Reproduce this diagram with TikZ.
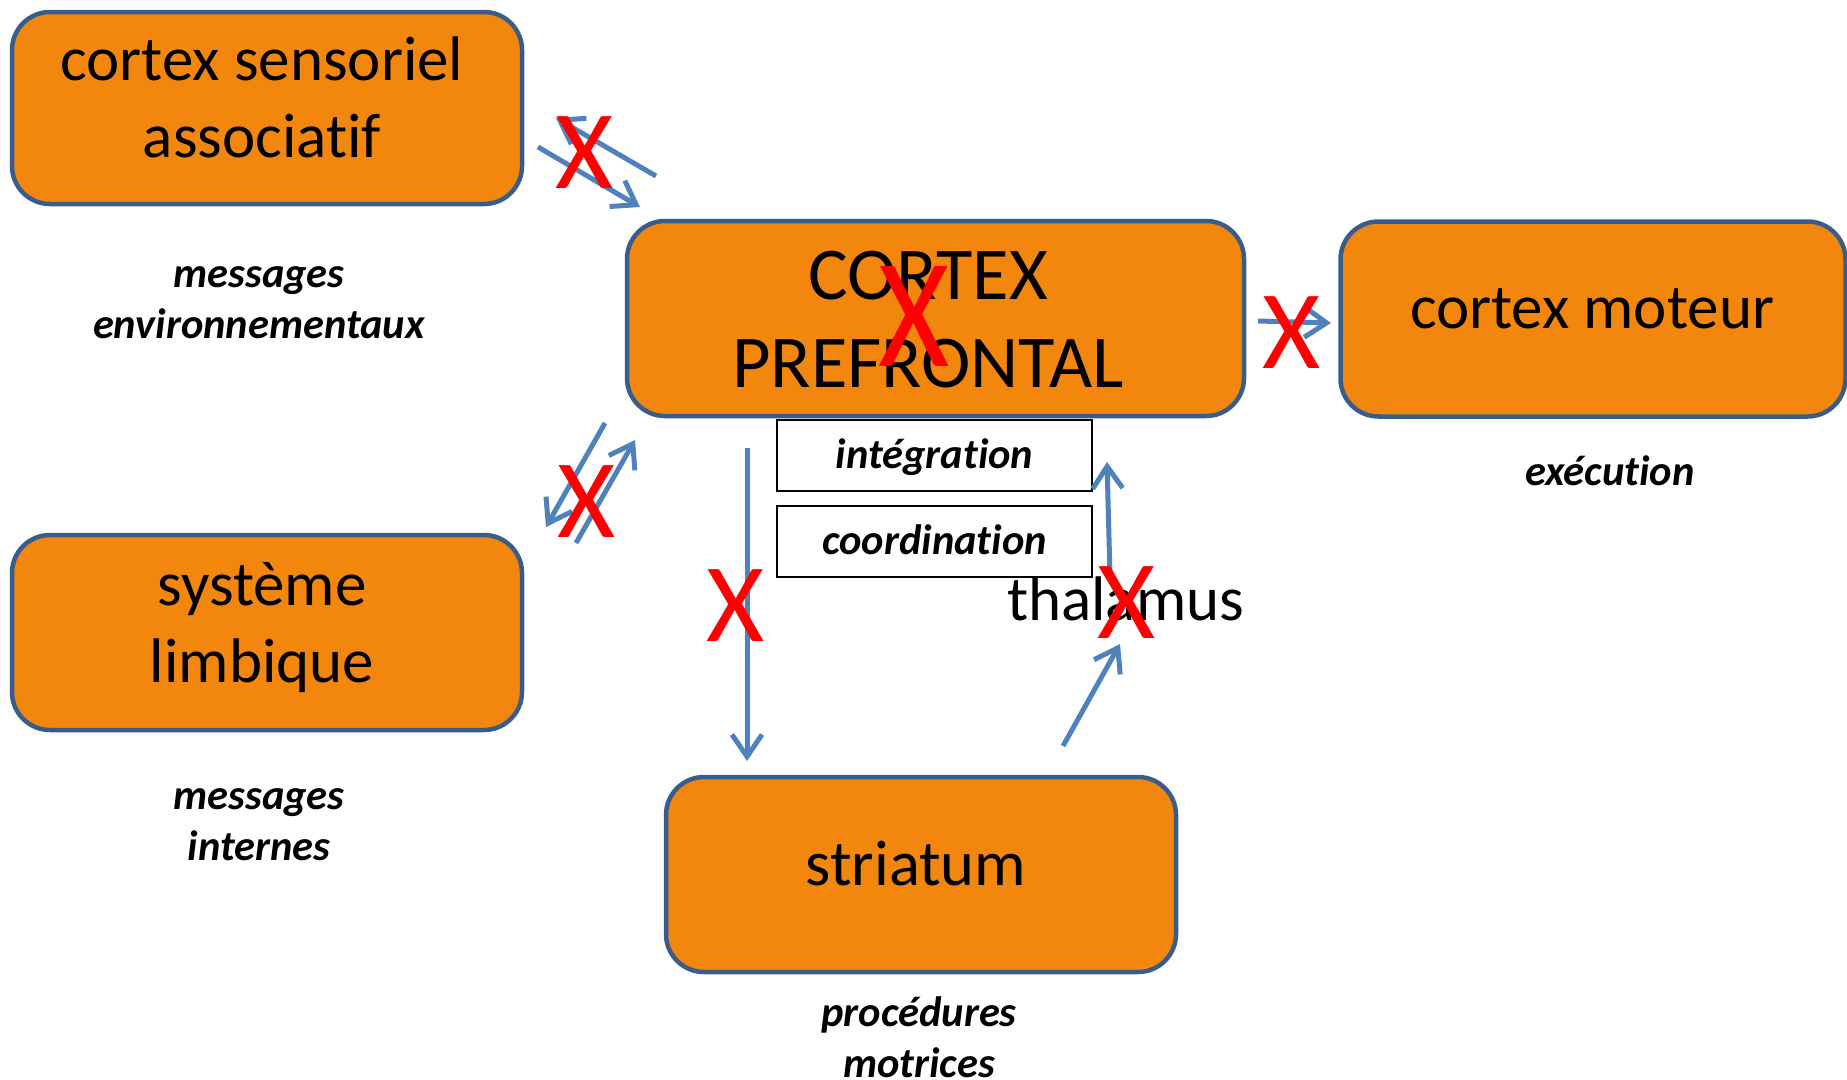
\documentclass[tikz,border=0pt]{standalone}
\usepackage{fontspec}
\setmainfont{Carlito}[Ligatures=NoCommon]
\usetikzlibrary{arrows.meta}
\definecolor{boxfill}{RGB}{243,135,13}
\definecolor{boxline}{RGB}{56,93,138}
\definecolor{arrowblue}{RGB}{79,129,189}
\definecolor{xred}{RGB}{255,0,0}
\begin{document}
\begin{tikzpicture}[x=1pt,y=-1pt,
  brain/.style={draw=boxline, line width=4.5pt, fill=boxfill, rounded corners=38pt, inner sep=0pt},
  boxtext/.style={align=center, inner sep=0pt, anchor=base, font=\fontsize{63}{77}\selectfont},
  tag/.style={draw=black, line width=1.8pt, fill=white, inner sep=0pt, minimum width=315pt, minimum height=71pt, text height=31pt, text depth=6pt, font=\fontsize{42.5}{50}\selectfont\bfseries\itshape},
  note/.style={align=center, inner sep=0pt, anchor=base, font=\fontsize{42.5}{51}\selectfont\bfseries\itshape},
  link/.style={draw=arrowblue, line width=5pt, -{Straight Barb[length=22pt,width=30pt]}},
  cross/.style={text=xred, inner sep=0pt, font=\fontsize{112}{112}\selectfont}
]
\useasboundingbox (0,0) rectangle (1847,1079);
% boxes
\node[brain, minimum width=510pt, minimum height=192pt] (sens) at (267,108) {};
\node[brain, minimum width=617pt, minimum height=195pt] (pfc) at (935.5,318.5) {};
\node[brain, minimum width=505pt, minimum height=195pt] (mot) at (1593,319) {};
\node[brain, minimum width=510pt, minimum height=195pt] (limb) at (267,632.5) {};
\node[brain, minimum width=510pt, minimum height=195pt] (stri) at (921,874.5) {};
% box texts (base = baseline of last line)
\node[boxtext] (sens-t) at (262,157) {cortex sensoriel\\associatif};
\node[boxtext, font=\fontsize{74.5}{88}\selectfont] (pfc-t) at (928,387) {CORTEX\\PREFRONTAL};
\node[boxtext] (mot-t) at (1592,328) {cortex moteur};
\node[boxtext] (limb-t) at (262,682) {système\\limbique};
\node[boxtext, font=\fontsize{64.5}{77}\selectfont] (stri-t) at (916,885) {striatum};
\node[tag] (integ) at (934.5,455.5) {intégration};
\node[tag] (coord) at (934.5,541.5) {coordination};
% notes
\node[note] (envn) at (259,338) {messages\\environnementaux};
\node[note] (intn) at (259,860) {messages\\internes};
\node[note] (exen) at (1610,485) {exécution};
\node[note] (procn) at (919,1077) {procédures\\motrices};
% arrow ends
\coordinate (a1s) at (538,147);  \coordinate (a1e) at (640,207);
\coordinate (a2s) at (656,176);  \coordinate (a2e) at (556,118);
\coordinate (a3s) at (605,423);  \coordinate (a3e) at (546,527);
\coordinate (a4s) at (576,543);  \coordinate (a4e) at (635,440);
\coordinate (a5s) at (747,448);  \coordinate (a5e) at (747,761);
\coordinate (a6s) at (1063,746); \coordinate (a6e) at (1120,644);
\coordinate (a7s) at (1110,576); \coordinate (a7e) at (1107,462);
\coordinate (a8s) at (1258,321); \coordinate (a8e) at (1331,323);
\draw[link] (a1s) -- (a1e);
\draw[link] (a2s) -- (a2e);
\draw[link] (a3s) -- (a3e);
\draw[link] (a4s) -- (a4e);
\draw[link] (a5s) -- (a5e);
\draw[link] (a6s) -- (a6e);
\draw[link] (a7s) -- (a7e);
\draw[link] (a8s) -- (a8e);
% thalamus
\node[anchor=base west, inner sep=0pt, font=\fontsize{63}{77}\selectfont] (thal) at (1007,620) {thalamus};
% red crosses
\node[cross] (x1) at (585,153) {X};
\node[cross, font=\fontsize{156}{156}\selectfont, xscale=0.88] (x2) at (914,316) {X};
\node[cross] (x3) at (1292,333) {X};
\node[cross] (x4) at (587,502) {X};
\node[cross] (x5) at (736,606) {X};
\node[cross] (x6) at (1127,603) {X};
\end{tikzpicture}
\end{document}
